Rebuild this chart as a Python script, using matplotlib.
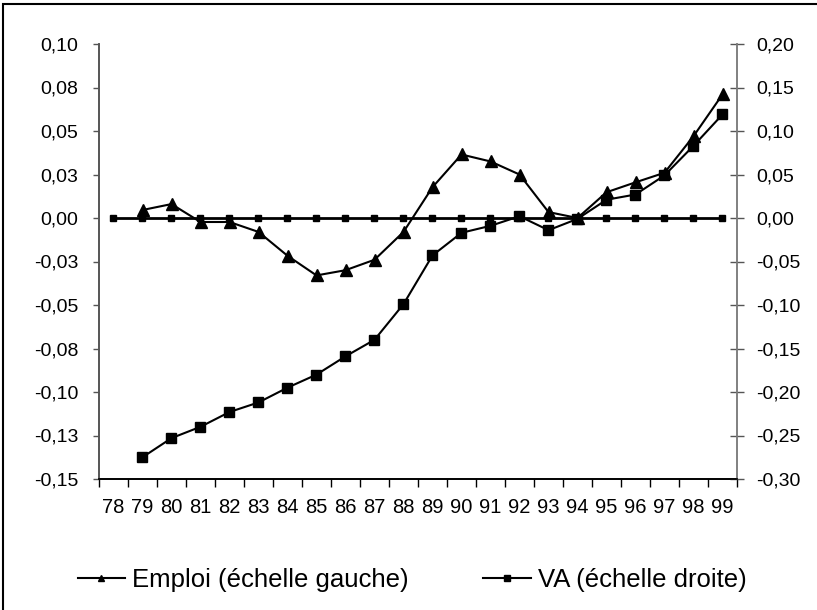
import numpy as np
import matplotlib.pyplot as plt
from matplotlib.patches import Rectangle

plt.rcParams['font.family'] = ['Liberation Sans', 'DejaVu Sans']

# years 78..99, series start in 79
years = ['78', '79', '80', '81', '82', '83', '84', '85', '86', '87', '88',
         '89', '90', '91', '92', '93', '94', '95', '96', '97', '98', '99']

emploi = [np.nan, 0.0046, 0.008, -0.0023, -0.0023, -0.008, -0.0217, -0.033,
          -0.030, -0.024, -0.008, 0.0177, 0.0365, 0.0325, 0.025, 0.0034,
          0.0, 0.0148, 0.0205, 0.026, 0.047, 0.071]

va = [np.nan, -0.275, -0.253, -0.240, -0.223, -0.212, -0.195, -0.180,
      -0.159, -0.140, -0.099, -0.043, -0.017, -0.009, 0.002, -0.014,
      -0.001, 0.021, 0.027, 0.049, 0.083, 0.119]

zero = [0.0] * len(years)

left_ticks = [0.10, 0.075, 0.05, 0.025, 0.0, -0.025, -0.05, -0.075, -0.10, -0.125, -0.15]
left_labels = ['0,10', '0,08', '0,05', '0,03', '0,00', '-0,03', '-0,05', '-0,08', '-0,10', '-0,13', '-0,15']
right_ticks = [0.20, 0.15, 0.10, 0.05, 0.0, -0.05, -0.10, -0.15, -0.20, -0.25, -0.30]
right_labels = ['0,20', '0,15', '0,10', '0,05', '0,00', '-0,05', '-0,10', '-0,15', '-0,20', '-0,25', '-0,30']

W, H = 817, 610
fig = plt.figure(figsize=(W / 100, H / 100), dpi=100)
ax = fig.add_axes([99 / W, 1 - 479 / H, (737 - 99) / W, (479 - 44) / H])
ax2 = ax.twinx()

x = np.arange(len(years))

# zero reference line with small markers
ax2.plot(x, zero, color='black', lw=2, marker='s', ms=5, zorder=2)
l1, = ax.plot(x, emploi, color='black', lw=1.5, marker='^', ms=8, zorder=3)
l2, = ax2.plot(x, va, color='black', lw=1.5, marker='s', ms=7, zorder=3)

ax.set_xlim(-0.5, len(years) - 0.5)
ax.set_ylim(-0.15, 0.10)
ax2.set_ylim(-0.30, 0.20)

ax.set_yticks(left_ticks)
ax.set_yticklabels(left_labels)
ax2.set_yticks(right_ticks)
ax2.set_yticklabels(right_labels)

# category ticks between years, labels centred
ax.set_xticks(np.arange(len(years) + 1) - 0.5)
ax.set_xticklabels([])
ax.set_xticks(x, minor=True)
ax.set_xticklabels(years, minor=True)
ax.tick_params(axis='x', which='major', direction='out', length=6, width=1, color='black')
ax.tick_params(axis='x', which='minor', length=0, pad=14, labelsize=14.5)
ax.tick_params(axis='y', direction='out', length=4, width=1, color='#555555', pad=11, labelsize=14)
ax2.tick_params(axis='y', direction='inout', length=10, width=1, color='#555555', pad=9, labelsize=14)

for a in (ax, ax2):
    a.spines['top'].set_visible(False)
    a.spines['left'].set_color('#555555')
    a.spines['right'].set_color('#808080')
    a.spines['bottom'].set_color('black')
    for s in a.spines.values():
        s.set_linewidth(1.2)

fig.legend([l1, l2], ['Emploi (échelle gauche)', 'VA (échelle droite)'],
           loc='center', bbox_to_anchor=(412 / W, 1 - 580 / H), ncol=2,
           frameon=False, fontsize=18.5, handlelength=1.85, handletextpad=0.27,
           columnspacing=2.9, markerscale=0.6)

# chart area border
fig.add_artist(Rectangle((3 / W, -0.1), 1.2, 1.1 - 4 / H, transform=fig.transFigure,
                         fill=False, edgecolor='black', lw=1.5))

fig.savefig('out.png', dpi=100)
